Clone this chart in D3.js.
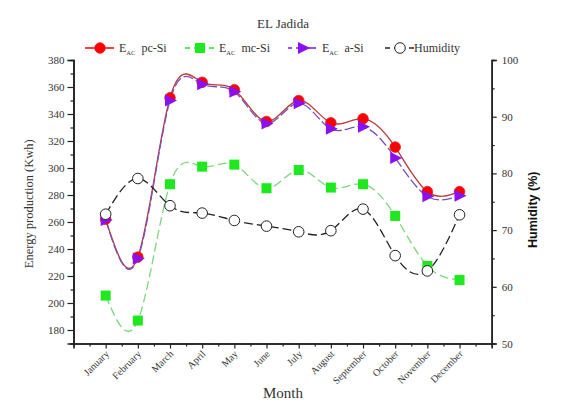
<!DOCTYPE html>
<html>
<head>
<meta charset="utf-8">
<script src="https://cdn.jsdelivr.net/npm/d3@7"></script>
<style>
  body { margin: 0; background: #fff; }
  svg { display: block; font-family: "Liberation Serif", "Times New Roman", serif; }
</style>
</head>
<body>
<svg id="chart" width="563" height="406"></svg>
<script>
// Monthly energy production of three PV technologies and relative humidity, El Jadida
const months = ["January", "February", "March", "April", "May", "June", "July",
  "August", "September", "October", "November", "December"];
const pcSi = [262, 234, 352, 363.5, 358, 334.5, 350, 333.5, 336.5, 315.5, 282.5, 282.5];
const mcSi = [205.5, 187, 288, 301, 302.5, 285, 298.5, 285.5, 288, 264.5, 227.5, 217];
const aSi = [261.5, 233, 350, 362, 356.5, 333, 348, 329, 330.5, 307.5, 279, 279.5];
const humidity = [72.8, 79.1, 74.3, 73.0, 71.7, 70.7, 69.7, 69.9, 73.7, 65.5, 62.8, 72.7];
const energyTicks = [180, 200, 220, 240, 260, 280, 300, 320, 340, 360, 380];
const humidityTicks = [50, 60, 70, 80, 90, 100];

const svg = d3.select("#chart");
const mLeft = 73.5, mRight = 491.7, mTop = 60, mBottom = 343.5;
const axisColor = "#222";
const textColor = "#333";

const x = d3.scaleLinear().domain([0, 13]).range([mLeft, mRight]);
const yE = d3.scaleLinear().domain([170, 380]).range([mBottom, mTop]);
const yH = d3.scaleLinear().domain([50, 100]).range([mBottom, mTop]);

// Axes: left (energy), right (humidity), bottom (months)
const leftAxis = d3.axisLeft(yE).tickValues(energyTicks).tickSize(6).tickPadding(3);
const leftMinor = d3.axisLeft(yE).tickValues(d3.range(170, 380, 20)).tickSize(3).tickFormat("");
const rightAxis = d3.axisRight(yH).tickValues(humidityTicks).tickSize(5).tickPadding(5);
const rightMinor = d3.axisRight(yH).tickValues(d3.range(55, 100, 10)).tickSize(3).tickFormat("");
const bottomAxis = d3.axisBottom(x).tickValues(d3.range(1, 13)).tickSize(5).tickFormat("");
const bottomMinor = d3.axisBottom(x).tickValues(d3.range(0.5, 13, 1)).tickSize(3).tickFormat("");

function styleAxis(g) {
  g.select(".domain").attr("stroke", axisColor).attr("stroke-width", 1.6);
  g.selectAll(".tick line").attr("stroke", axisColor).attr("stroke-width", 1.2);
  g.selectAll(".tick text").attr("fill", textColor)
    .style("font-family", "'Liberation Serif', serif").style("font-size", "11px");
}

svg.append("g").attr("transform", `translate(${mLeft},0)`).call(leftMinor).call(styleAxis);
svg.append("g").attr("transform", `translate(${mLeft},0)`).call(leftAxis).call(styleAxis);
svg.append("g").attr("transform", `translate(${mRight},0)`).call(rightMinor).call(styleAxis);
svg.append("g").attr("transform", `translate(${mRight},0)`).call(rightAxis).call(styleAxis);
svg.append("g").attr("transform", `translate(0,${mBottom})`).call(bottomMinor).call(styleAxis);
svg.append("g").attr("transform", `translate(0,${mBottom})`).call(bottomAxis).call(styleAxis);

// Rotated month labels
svg.append("g").selectAll("text").data(months).join("text")
  .attr("transform", (d, i) => `translate(${x(i + 1) + 4},${mBottom + 11}) rotate(-45)`)
  .attr("text-anchor", "end")
  .attr("fill", textColor)
  .style("font-size", "10px")
  .text(d => d);

// Axis titles
svg.append("text").attr("x", 283).attr("y", 398).attr("text-anchor", "middle")
  .attr("fill", textColor).style("font-size", "15px").text("Month");
svg.append("text").attr("transform", `translate(33,${(mTop + mBottom) / 2 + 2}) rotate(-90)`)
  .attr("text-anchor", "middle").attr("fill", textColor).style("font-size", "12.5px")
  .text("Energy production (Kwh)");
svg.append("text").attr("transform", `translate(537,${(mTop + mBottom) / 2 + 8}) rotate(-90)`)
  .attr("text-anchor", "middle").attr("fill", "#111").style("font-size", "12.5px")
  .style("font-family", "'Liberation Sans', Arial, sans-serif").style("font-weight", "bold")
  .text("Humidity (%)");

// Title
svg.append("text").attr("x", 283).attr("y", 28).attr("text-anchor", "middle")
  .attr("fill", textColor).style("font-size", "13px").text("EL Jadida");

// Series definitions
const series = [
  { key: "pc", label: "pc-Si", values: pcSi, y: yE, line: "#b83a3a", dash: null, fill: "#ff0000", shape: "circle" },
  { key: "mc", label: "mc-Si", values: mcSi, y: yE, line: "#7ed67e", dash: "9,4", fill: "#1ee81e", shape: "square" },
  { key: "a", label: "a-Si", values: aSi, y: yE, line: "#7a4fb8", dash: "10,3", fill: "#8a10f0", shape: "triangle" },
  { key: "h", label: "Humidity", values: humidity, y: yH, line: "#222", dash: "9,4", fill: "#fff", shape: "open" }
];

function drawMarker(g, shape, fill) {
  if (shape === "circle") {
    g.append("circle").attr("r", 5.3).attr("fill", fill).attr("stroke", "#e02020").attr("stroke-width", 0.8);
  } else if (shape === "square") {
    g.append("rect").attr("x", -5).attr("y", -5).attr("width", 10).attr("height", 10).attr("fill", fill);
  } else if (shape === "triangle") {
    g.append("path").attr("d", "M-5,-6L7,0L-5,6Z").attr("fill", fill);
  } else {
    g.append("circle").attr("r", 5.3).attr("fill", "#fff").attr("stroke", "#222").attr("stroke-width", 1);
  }
}

const plot = svg.append("g");
series.forEach(s => {
  const line = d3.line()
    .x((d, i) => x(i + 1))
    .y(d => s.y(d))
    .curve(d3.curveNatural);
  plot.append("path").datum(s.values)
    .attr("d", line)
    .attr("fill", "none")
    .attr("stroke", s.line)
    .attr("stroke-width", 1.3)
    .attr("stroke-dasharray", s.dash);
});
series.forEach(s => {
  s.values.forEach((v, i) => {
    const g = plot.append("g").attr("transform", `translate(${x(i + 1)},${s.y(v)})`);
    drawMarker(g, s.shape, s.fill);
  });
});

// Legend
const legendItems = [
  { s: series[0], x0: 85 },
  { s: series[1], x0: 185 },
  { s: series[2], x0: 288 },
  { s: series[3], x0: 385 }
];
const ly = 48;
legendItems.forEach(({ s, x0 }) => {
  const g = svg.append("g");
  g.append("line").attr("x1", x0).attr("x2", x0 + 29).attr("y1", ly).attr("y2", ly)
    .attr("stroke", s.key === "h" ? "#222" : s.fill).attr("stroke-width", 1.5)
    .attr("stroke-dasharray", s.key === "pc" ? null : (s.key === "a" ? "4,4,20" : "5,4,11,4"));
  const m = g.append("g").attr("transform", `translate(${x0 + 15},${ly})`);
  drawMarker(m, s.shape, s.fill);
  if (s.key === "h") {
    g.append("text").attr("x", x0 + 29).attr("y", ly + 4).attr("fill", textColor)
      .style("font-size", "12px").text("Humidity");
  } else {
    const t = g.append("text").attr("x", x0 + 34).attr("y", ly + 4).attr("fill", textColor)
      .style("font-size", "12px");
    t.append("tspan").text("E");
    t.append("tspan").attr("dy", 3).style("font-size", "6.5px").text("AC");
    t.append("tspan").attr("dy", -3).text("\u2002" + s.label);
  }
});
</script>
</body>
</html>
